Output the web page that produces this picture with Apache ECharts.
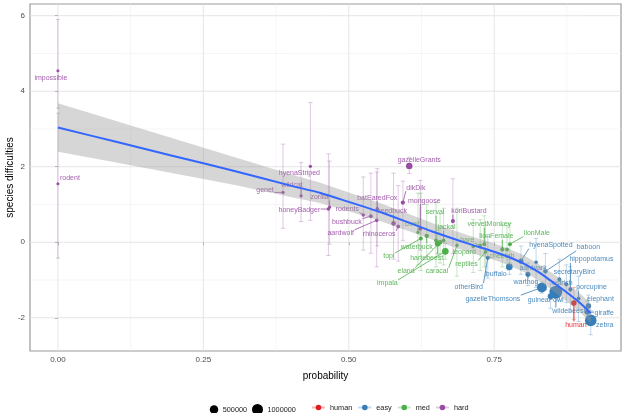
<!DOCTYPE html>
<html>
<head>
<meta charset="utf-8">
<script src="https://cdn.jsdelivr.net/npm/echarts@6/dist/echarts.min.js"></script>
<style>
  html, body { margin: 0; padding: 0; background: #fff; }
  #chart { width: 623px; height: 413px; }
</style>
</head>
<body>
<div id="chart"></div>
<script>
// values
var species = ['impossible', 'rodent', 'genet', 'wildcat', 'hyenaStriped', 'honeyBadger', 'zorilla',
  'rodents', 'bushbuck', 'aardwolf', 'batEaredFox', 'reedbuck', 'rhinoceros', 'dikDik', 'gazelleGrants',
  'mongoose', 'koriBustard',
  'civet', 'topi', 'waterbuck', 'serval', 'hartebeest', 'eland', 'impala', 'jackal', 'caracal', 'leopard',
  'hare', 'reptiles', 'vervetMonkey', 'lionFemale', 'cheetah', 'lionMale',
  'otherBird', 'buffalo', 'hyenaSpotted', 'aardvark', 'warthog', 'baboon', 'secretaryBird', 'ostrich',
  'gazelleThomsons', 'guineaFowl', 'wildebeest', 'hippopotamus', 'porcupine', 'elephant', 'giraffe', 'zebra',
  'human'];
var probability = [0.000, 0.000, 0.387, 0.418, 0.434, 0.465, 0.467,
  0.525, 0.538, 0.548, 0.549, 0.577, 0.585, 0.593, 0.604,
  0.623, 0.679,
  0.619, 0.624, 0.634, 0.650, 0.653, 0.657, 0.666, 0.663, 0.686, 0.714,
  0.726, 0.735, 0.733, 0.764, 0.772, 0.777,
  0.739, 0.776, 0.796, 0.822, 0.808, 0.838, 0.862, 0.874,
  0.832, 0.847, 0.856, 0.881, 0.895, 0.912, 0.910, 0.916,
  0.887];
var difficulty = [4.54, 1.55, 1.32, 1.23, 2.01, 0.88, 0.93,
  0.72, 0.69, 0.58, 0.89, 0.50, 0.42, 1.05, 2.02,
  0.36, 0.56,
  0.26, 0.10, 0.17, 0.05, -0.03, 0.00, -0.24, 0.05, -0.08, -0.11,
  -0.09, -0.26, -0.05, -0.19, -0.19, -0.05,
  -0.41, -0.65, -0.50, -0.53, -0.85, -0.77, -0.98, -1.11,
  -1.20, -1.43, -1.32, -1.25, -1.49, -1.69, -1.85, -2.07,
  -1.61];
var lower = [3.55, -0.42, 0.37, 0.55, 0.58, -0.35, -0.05,
  -0.21, -0.29, -0.65, -0.10, -0.45, -0.50, 0.05, 1.82,
  -0.21, -0.30,
  -0.60, -0.75, -0.45, -0.65, -0.30, -0.55, -0.45, -0.60, -0.90, -0.80,
  -0.75, -0.90, -0.65, -0.65, -0.70, -0.55,
  -0.95, -0.85, -0.85, -1.20, -1.15, -1.25, -1.55, -1.60,
  -1.35, -1.75, -1.45, -1.85, -2.10, -1.95, -2.15, -2.45,
  -2.05];
var upper = [5.90, 3.42, 2.60, 2.11, 3.70, 2.34, 2.15,
  1.73, 1.83, 1.86, 1.95, 1.83, 1.50, 1.62, 2.25,
  1.64, 1.68,
  1.30, 1.30, 1.00, 1.05, 0.25, 0.75, -0.03, 0.90, 0.90, 0.60,
  0.60, 0.45, 0.70, 0.45, 0.45, 0.50,
  0.15, -0.45, -0.10, 0.10, -0.55, -0.30, -0.45, -0.60,
  -1.05, -1.10, -1.20, -0.65, -0.90, -1.40, -1.55, -1.80,
  -1.20];
var count = [4000, 4000, 10000, 10000, 10000, 10000, 5000,
  15000, 20000, 15000, 15000, 60000, 20000, 40000, 220000,
  30000, 40000,
  8000, 30000, 50000, 25000, 170000, 60000, 250000, 25000, 10000, 15000,
  20000, 15000, 25000, 40000, 30000, 30000,
  40000, 250000, 90000, 15000, 90000, 50000, 25000, 30000,
  750000, 150000, 1500000, 40000, 30000, 120000, 100000, 1150000,
  125000];
var group = ['hard', 'hard', 'hard', 'hard', 'hard', 'hard', 'hard',
  'hard', 'hard', 'hard', 'hard', 'hard', 'hard', 'hard', 'hard',
  'hard', 'hard',
  'med', 'med', 'med', 'med', 'med', 'med', 'med', 'med', 'med', 'med',
  'med', 'med', 'med', 'med', 'med', 'med',
  'easy', 'easy', 'easy', 'easy', 'easy', 'easy', 'easy', 'easy',
  'easy', 'easy', 'easy', 'easy', 'easy', 'easy', 'easy', 'easy',
  'human'];

var groups = ['human', 'easy', 'med', 'hard'];
var sizeBreaks = [500000, 1000000];

// loess fit and its band
var smoothX = [0, 0.1, 0.2, 0.3, 0.4, 0.45, 0.5, 0.55, 0.6, 0.65, 0.7, 0.75, 0.775, 0.8, 0.825, 0.85, 0.875, 0.9, 0.916];
var smoothY = [3.04, 2.66, 2.28, 1.90, 1.50, 1.31, 1.07, 0.82, 0.54, 0.25, -0.01, -0.25, -0.39, -0.56, -0.78, -1.05, -1.33, -1.64, -1.88];
var smoothHi = [3.68, 3.21, 2.74, 2.27, 1.80, 1.58, 1.32, 1.06, 0.77, 0.47, 0.21, -0.03, -0.17, -0.34, -0.56, -0.82, -1.09, -1.39, -1.62];
var smoothLo = [2.40, 2.11, 1.82, 1.53, 1.20, 1.04, 0.82, 0.58, 0.31, 0.03, -0.23, -0.47, -0.61, -0.78, -1.00, -1.28, -1.57, -1.89, -2.14];

var xTicks = [0, 0.25, 0.5, 0.75];
var xMinor = [0.125, 0.375, 0.625, 0.875];
var yTicks = [-2, 0, 2, 4, 6];
var yMinor = [-1, 1, 3, 5];

// repelled label placement (pixel offset from the point)
var labelNudge = {
  impossible: [-7, 7], rodent: [12, -6], genet: [-18, -2], wildcat: [-9, -11], hyenaStriped: [-11, 7],
  honeyBadger: [-29, 1], zorilla: [-10, -10], rodents: [-16, -6], bushbuck: [-24, 6], aardwolf: [-36, 13],
  batEaredFox: [0, -11], reedbuck: [-1, -12], rhinoceros: [-19, 8], dikDik: [13, -15], gazelleGrants: [10, -6],
  mongoose: [4, -28], koriBustard: [16, -10],
  civet: [-6, -8], topi: [-32, 18], waterbuck: [-10, 11], serval: [-1, -28], hartebeest: [-11, 15],
  eland: [-34, 29], impala: [-58, 32], jackal: [3, -13], caracal: [-20, 26], leopard: [-9, 6],
  hare: [-13, -6], reptiles: [-19, 12], vervetMonkey: [5, -20], lionFemale: [-6, -13], cheetah: [-5, 7],
  lionMale: [27, -11],
  otherBird: [-19, 29], buffalo: [-13, 7], hyenaSpotted: [30, -16], aardvark: [-3, 6], warthog: [-2, 8],
  baboon: [43, -24], secretaryBird: [15, -7], ostrich: [-4, -1], gazelleThomsons: [-49, 11],
  guineaFowl: [-5, 4], wildebeest: [13, 19], hippopotamus: [21, -30], porcupine: [13, -11],
  elephant: [12, -7], giraffe: [17, 1], zebra: [14, 5], human: [2, 22]
};

var groupColor = { human: '#E41A1C', easy: '#377EB8', med: '#4DAF4A', hard: '#984EA3' };
var FONT = '"Liberation Sans", Arial, Helvetica, sans-serif';
var LABEL_PX = 7;

function rgba(hex, a) {
  var n = parseInt(hex.slice(1), 16);
  return 'rgba(' + (n >> 16 & 255) + ',' + (n >> 8 & 255) + ',' + (n & 255) + ',' + a + ')';
}
function dotSize(c) {
  return 2.5 + 8.5 * Math.sqrt(c / 1e6);
}

var measureCtx = document.createElement('canvas').getContext('2d');
measureCtx.font = LABEL_PX + 'px ' + FONT;
function textWidth(s) {
  return measureCtx.measureText(s).width;
}

var chart = echarts.init(document.getElementById('chart'));

function gridLineSeries(values, vertical, major) {
  return {
    type: 'custom',
    silent: true,
    z: 0,
    data: values.map(function (v) { return vertical ? [v, 0] : [0, v]; }),
    encode: { x: 0, y: 1 },
    renderItem: function (params, api) {
      var cs = params.coordSys;
      var p = api.coord([api.value(0), api.value(1)]);
      var shape = vertical
        ? { x1: p[0], y1: cs.y, x2: p[0], y2: cs.y + cs.height }
        : { x1: cs.x, y1: p[1], x2: cs.x + cs.width, y2: p[1] };
      return {
        type: 'line', shape: shape,
        style: { stroke: major ? '#e2e2e2' : '#efefef', lineWidth: major ? 0.9 : 0.6 }
      };
    }
  };
}

var idx = species.map(function (s, i) { return i; });

var series = [
  gridLineSeries(xMinor, true, false),
  gridLineSeries(yMinor, false, false),
  gridLineSeries(xTicks, true, true),
  gridLineSeries(yTicks, false, true),
  {
    // error bars
    type: 'custom',
    silent: true,
    z: 1,
    data: idx.map(function (i) { return [probability[i], lower[i], upper[i], i]; }),
    encode: { x: 0, y: [1, 2] },
    renderItem: function (params, api) {
      var i = api.value(3);
      var top = api.coord([api.value(0), api.value(2)]);
      var bot = api.coord([api.value(0), api.value(1)]);
      var col = rgba(groupColor[group[i]], 0.3);
      var cap = 2.2;
      var st = { stroke: col, lineWidth: 1 };
      return {
        type: 'group',
        children: [
          { type: 'line', shape: { x1: top[0], y1: top[1], x2: bot[0], y2: bot[1] }, style: st },
          { type: 'line', shape: { x1: top[0] - cap, y1: top[1], x2: top[0] + cap, y2: top[1] }, style: st },
          { type: 'line', shape: { x1: bot[0] - cap, y1: bot[1], x2: bot[0] + cap, y2: bot[1] }, style: st }
        ]
      };
    }
  }
];

// points, one series per difficulty group
groups.forEach(function (g) {
  series.push({
    type: 'scatter',
    name: 'pts-' + g,
    z: 2,
    silent: true,
    itemStyle: { color: groupColor[g], opacity: 1 },
    symbolSize: function (v) { return dotSize(v[2]); },
    data: idx.filter(function (i) { return group[i] === g; })
      .map(function (i) { return [probability[i], difficulty[i], count[i]]; })
  });
});

// repelled text labels with leader segments
series.push({
  type: 'custom',
  silent: true,
  z: 3,
  data: idx.map(function (i) { return [probability[i], difficulty[i], i]; }),
  encode: { x: 0, y: 1 },
  renderItem: function (params, api) {
    var i = api.value(2);
    var name = species[i];
    var col = groupColor[group[i]];
    var p = api.coord([api.value(0), api.value(1)]);
    var nd = labelNudge[name] || [0, -8];
    var cx = p[0] + nd[0], cy = p[1] + nd[1];
    var hw = textWidth(name) / 2 + 0.5, hh = LABEL_PX / 2;
    var qx = Math.max(cx - hw, Math.min(p[0], cx + hw));
    var qy = Math.max(cy - hh, Math.min(p[1], cy + hh));
    var children = [];
    if (Math.hypot(qx - p[0], qy - p[1]) > 3.5) {
      children.push({
        type: 'line',
        shape: { x1: p[0], y1: p[1], x2: qx, y2: qy },
        style: { stroke: col, lineWidth: 0.8 }
      });
    }
    children.push({
      type: 'text',
      x: cx, y: cy,
      style: {
        text: name, fill: col, opacity: 0.9,
        fontSize: LABEL_PX, fontFamily: FONT,
        align: 'center', verticalAlign: 'middle'
      }
    });
    return { type: 'group', children: children };
  }
});

// confidence band of the smooth
series.push({
  type: 'custom',
  silent: true,
  z: 4,
  data: [[smoothX[0], smoothY[0]]],
  encode: { x: 0, y: 1 },
  renderItem: function (params, api) {
    var pts = [];
    smoothX.forEach(function (x, k) { pts.push(api.coord([x, smoothHi[k]])); });
    for (var k = smoothX.length - 1; k >= 0; k--) pts.push(api.coord([smoothX[k], smoothLo[k]]));
    return {
      type: 'polygon',
      shape: { points: pts },
      style: { fill: 'rgba(153,153,153,0.4)' }
    };
  }
});

// the smooth itself
series.push({
  type: 'line',
  z: 5,
  silent: true,
  smooth: 0.3,
  showSymbol: false,
  symbol: 'none',
  lineStyle: { color: '#3366FF', width: 2 },
  data: smoothX.map(function (x, k) { return [x, smoothY[k]]; })
});

// empty series that only feed the colour legend (point-range keys)
groups.forEach(function (g) {
  series.push({
    type: 'line',
    name: g,
    data: [],
    symbol: 'circle',
    symbolSize: 4,
    itemStyle: { color: groupColor[g] },
    lineStyle: { color: rgba(groupColor[g], 0.3), width: 2.5 }
  });
});

// size legend
var sizeGraphics = [];
var sizeX = [214, 257.5];
sizeBreaks.forEach(function (b, k) {
  var r = dotSize(b) / 2;
  sizeGraphics.push({
    type: 'circle', shape: { cx: sizeX[k], cy: 409.5, r: r }, style: { fill: '#000' }
  });
  sizeGraphics.push({
    type: 'text', x: sizeX[k] + r + 4.5, y: 409.5,
    style: { text: String(b), fill: '#1a1a1a', fontSize: 7.3, fontFamily: FONT, verticalAlign: 'middle' }
  });
});

chart.setOption({
  animation: false,
  backgroundColor: '#fff',
  textStyle: { fontFamily: FONT },
  grid: {
    left: 30, right: 2, top: 4, bottom: 62,
    containLabel: false,
    outerBoundsMode: 'none',
    show: true, borderColor: '#9a9a9a', borderWidth: 1.2
  },
  xAxis: {
    type: 'value',
    min: -0.048, max: 0.968,
    name: 'probability',
    nameLocation: 'middle',
    nameGap: 20,
    nameMoveOverlap: false,
    nameTextStyle: { fontSize: 10, color: '#000', fontFamily: FONT },
    axisLine: { show: false },
    splitLine: { show: false },
    axisTick: { show: true, length: 3, lineStyle: { color: '#b3b3b3' }, customValues: xTicks },
    axisLabel: {
      customValues: xTicks,
      formatter: function (v) { return v.toFixed(2); },
      fontSize: 8, color: '#4d4d4d', margin: 5, fontFamily: FONT
    }
  },
  yAxis: {
    type: 'value',
    min: -2.88, max: 6.31,
    name: 'species difficulties',
    nameLocation: 'middle',
    nameGap: 15,
    nameMoveOverlap: false,
    nameTextStyle: { fontSize: 10, color: '#000', fontFamily: FONT },
    axisLine: { show: false },
    splitLine: { show: false },
    axisTick: { show: true, length: 3, lineStyle: { color: '#b3b3b3' }, customValues: yTicks },
    axisLabel: {
      customValues: yTicks,
      fontSize: 8, color: '#4d4d4d', margin: 5, fontFamily: FONT
    }
  },
  legend: {
    data: groups,
    left: 309, top: 402,
    itemWidth: 13, itemHeight: 7, itemGap: 5,
    padding: 2,
    selectedMode: false,
    textStyle: { fontSize: 7.3, color: '#1a1a1a', fontFamily: FONT }
  },
  graphic: sizeGraphics,
  series: series
});
</script>
</body>
</html>
